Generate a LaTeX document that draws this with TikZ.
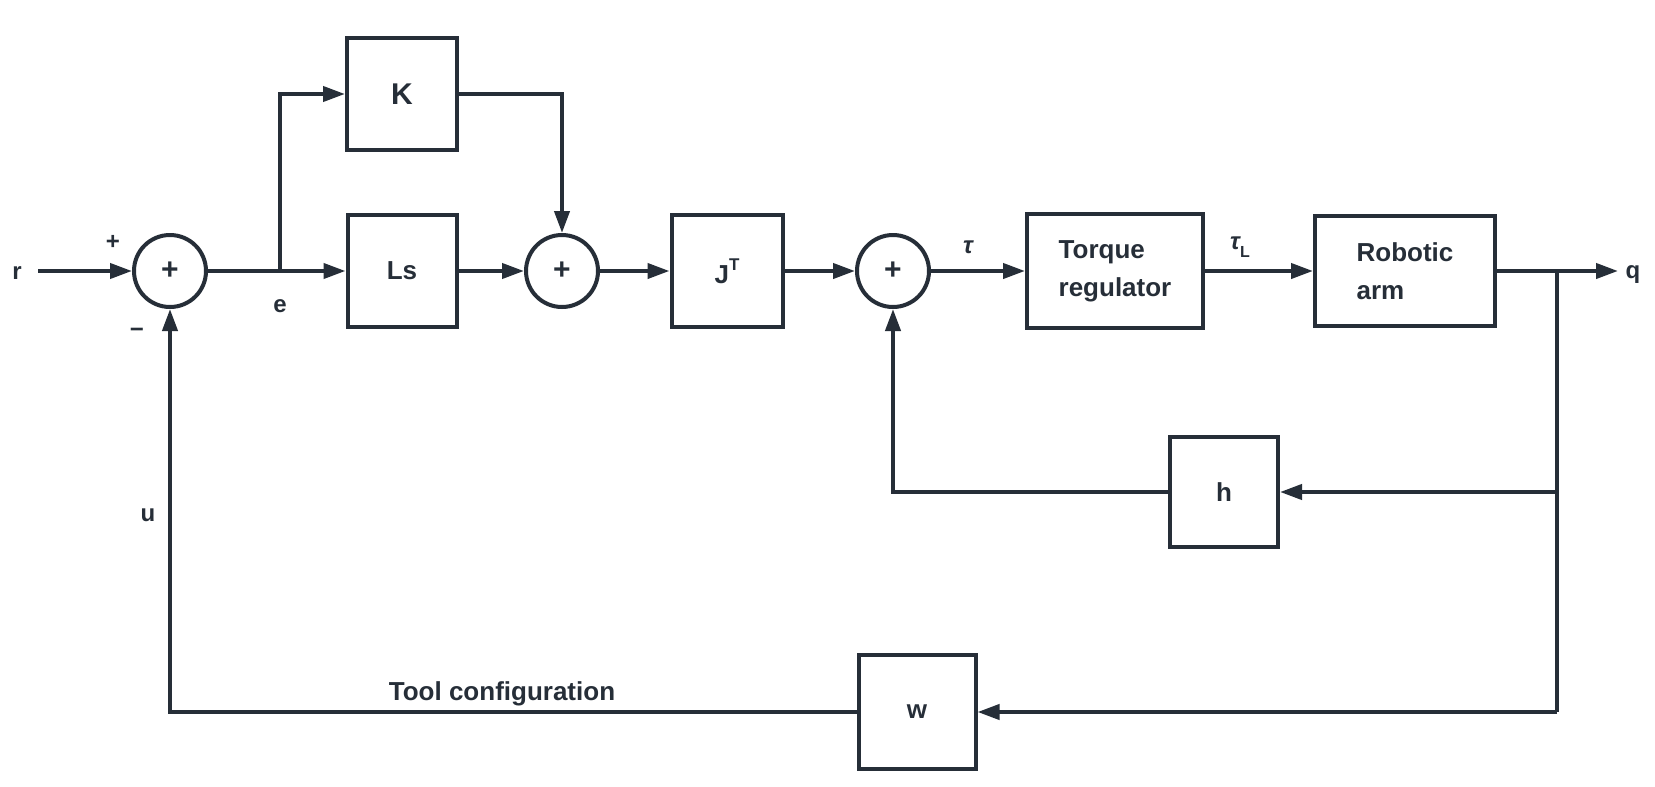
\documentclass[tikz,border=0pt]{standalone}
\usepackage{fontspec}
\setmainfont{Liberation Sans}
\usetikzlibrary{arrows.meta}
\definecolor{ink}{RGB}{38,46,56}
\begin{document}
\begin{tikzpicture}[x=1pt,y=-1pt,
  every path/.style={draw=ink, line width=4pt},
  blk/.style={draw=ink, line width=4pt, minimum height=112pt, inner sep=0pt, text=ink,
    font=\fontsize{26}{38}\selectfont\bfseries, align=left},
  sumc/.style={draw=ink, circle, line width=4pt, minimum size=72pt, inner sep=0pt, text=ink,
    font=\fontsize{30}{30}\selectfont\bfseries},
  lbl/.style={font=\fontsize{24}{24}\selectfont\bfseries, inner sep=0pt, text=ink},
  arr/.style={-{Triangle[length=22pt,width=15pt]}},
]
\useasboundingbox[fill=white, draw=none] (0,0) rectangle (1655,787);

% blocks and summing junctions
\node[sumc] (s1) at (170,271) {+};
\node[blk, minimum width=110pt] (K) at (402,94) {\fontsize{30}{30}\selectfont K};
\node[blk, minimum width=109pt] (Ls) at (402,271) {Ls};
\node[sumc] (s2) at (562,271) {+};
\node[blk, minimum width=111pt] (JT) at (727,271) {J\raisebox{0.5em}{\fontsize{17}{17}\selectfont T}};
\node[sumc] (s3) at (893,271) {+};
\node[blk, minimum width=176pt, minimum height=114pt] (TR) at (1115,271) {Torque\\regulator};
\node[blk, minimum width=180pt, minimum height=110pt] (RA) at (1405,271) {Robotic\\arm};
\node[blk, minimum width=108pt, minimum height=110pt] (h) at (1224,492) {h};
\node[blk, minimum width=117pt, minimum height=114pt] (w) at (917,712) {w};

% free ends and branch points
\coordinate (rin) at (38,271);
\coordinate (eb) at (280,271);
\coordinate (qb) at (1557,271);
\coordinate (qout) at (1618,271);
\coordinate (hb) at (1557,492);
\coordinate (wb) at (1557,712);

% connectors
\draw[arr] (rin) -- (s1);
\draw (s1) -- (eb);
\draw[arr] (eb) -- (Ls);
\draw[arr] (eb) |- (K);
\draw[arr] (K) -| (s2);
\draw[arr] (Ls) -- (s2);
\draw[arr] (s2) -- (JT);
\draw[arr] (JT) -- (s3);
\draw[arr] (s3) -- (TR);
\draw[arr] (TR) -- (RA);
\draw[arr] (RA) -- (qout);
\draw (qb) -- (wb);
\draw[arr] (hb) -- (h);
\draw[arr] (h) -| (s3);
\draw[arr] (wb) -- (w);
\draw[arr] (w) -| (s1);

% labels
\node[lbl] (lr) at (17,273) {r};
\node[lbl] (lplus) at (113,242) {+};
\node[lbl] (lminus) at (137,333) {−};
\node[lbl] (le) at (280,306) {e};
\node[lbl] (lu) at (148,515) {u};
\node[lbl] (ltau) at (968,247) {\itshape τ};
\node[lbl] (ltauL) at (1240,247) {\itshape τ\raisebox{-0.35em}{\upshape\fontsize{16}{16}\selectfont L}};
\node[lbl] (lq) at (1633,275) {q};
\node[font=\fontsize{26}{26}\selectfont\bfseries, text=ink, anchor=base, inner sep=0pt] (tc) at (502,700) {Tool configuration};
\end{tikzpicture}
\end{document}
